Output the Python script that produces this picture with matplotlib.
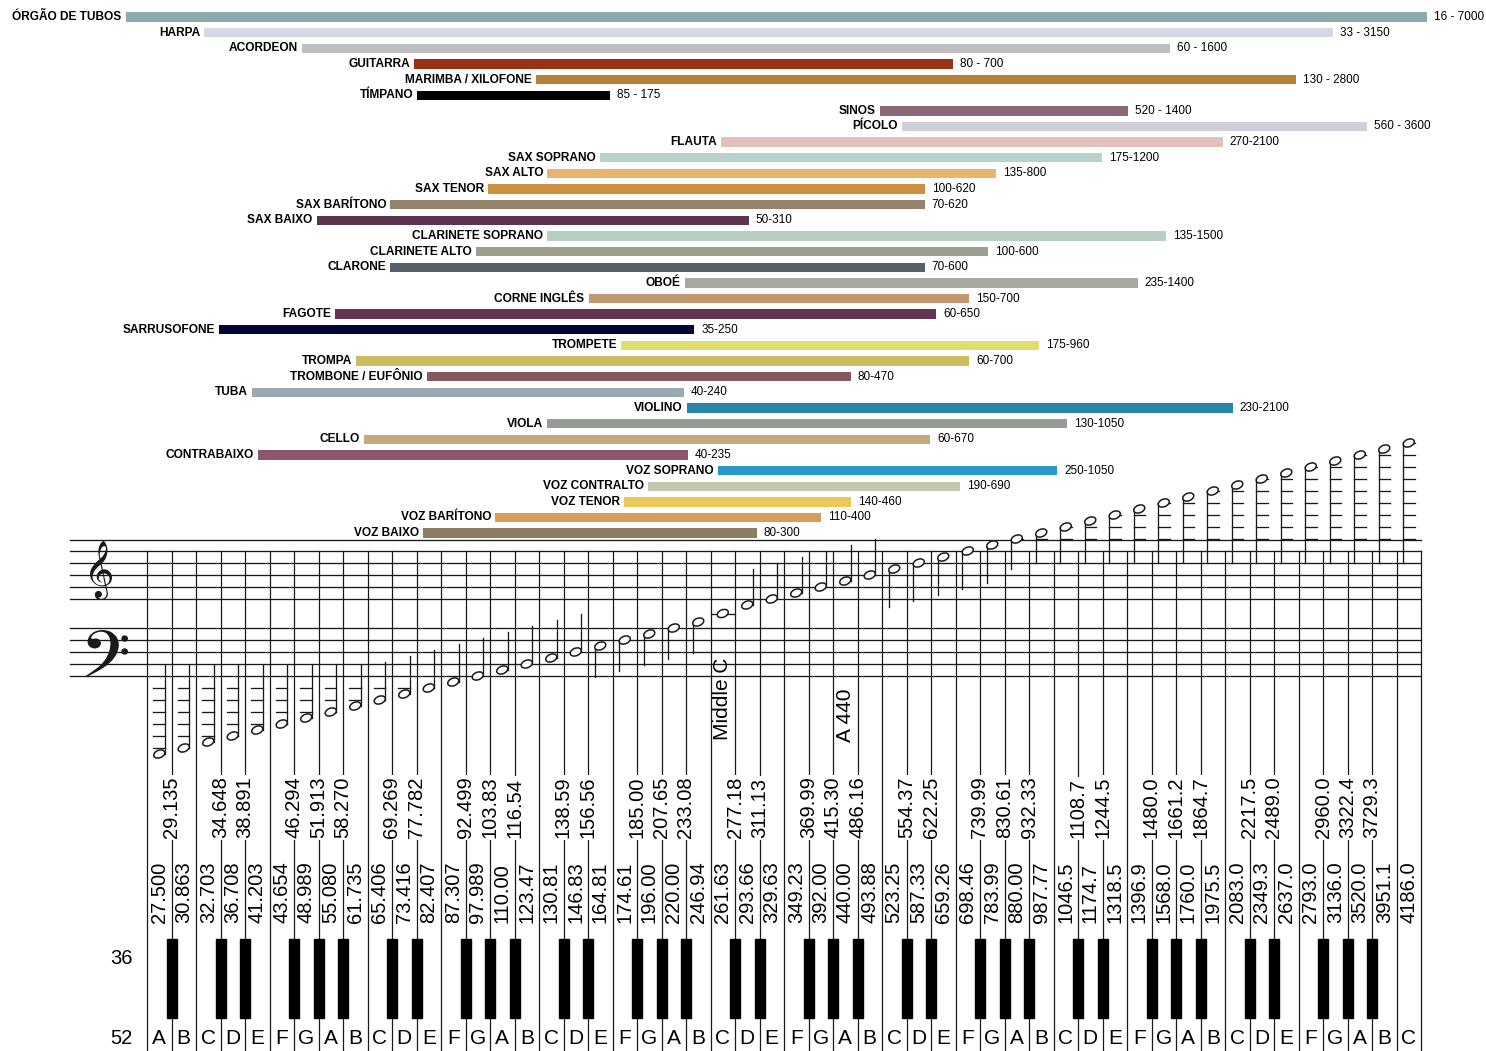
import numpy as np
import matplotlib
matplotlib.use("Agg")
import matplotlib.pyplot as plt
from matplotlib.patches import Ellipse, Rectangle, PathPatch
from matplotlib.path import Path
from matplotlib.textpath import TextPath
from matplotlib.font_manager import FontProperties

plt.rcParams['font.family'] = ['Liberation Sans', 'DejaVu Sans']

# ---------------- dados ----------------
instrumentos = ["ÓRGÃO DE TUBOS", "HARPA", "ACORDEON", "GUITARRA", "MARIMBA / XILOFONE",
                "TÍMPANO", "SINOS", "PÍCOLO", "FLAUTA", "SAX SOPRANO", "SAX ALTO",
                "SAX TENOR", "SAX BARÍTONO", "SAX BAIXO", "CLARINETE SOPRANO",
                "CLARINETE ALTO", "CLARONE", "OBOÉ", "CORNE INGLÊS", "FAGOTE",
                "SARRUSOFONE", "TROMPETE", "TROMPA", "TROMBONE / EUFÔNIO", "TUBA",
                "VIOLINO", "VIOLA", "CELLO", "CONTRABAIXO", "VOZ SOPRANO",
                "VOZ CONTRALTO", "VOZ TENOR", "VOZ BARÍTONO", "VOZ BAIXO"]
faixas = ["16 - 7000", "33 - 3150", "60 - 1600", "80 - 700", "130 - 2800", "85 - 175",
          "520 - 1400", "560 - 3600", "270-2100", "175-1200", "135-800", "100-620",
          "70-620", "50-310", "135-1500", "100-600", "70-600", "235-1400", "150-700",
          "60-650", "35-250", "175-960", "60-700", "80-470", "40-240", "230-2100",
          "130-1050", "60-670", "40-235", "250-1050", "190-690", "140-460", "110-400",
          "80-300"]
# extremos das barras como desenhadas (Hz), nem sempre iguais ao texto
hz_min = [24, 33, 49, 77, 126, 78, 506, 553, 266, 163, 132, 104, 70, 52, 132, 99, 70,
          230, 156, 56, 35, 178, 61, 81, 40, 232, 132, 63, 41, 263, 198, 180, 107, 80]
hz_max = [4620, 3160, 1636, 680, 2720, 170, 1379, 3624, 2024, 1242, 809, 607, 607, 298,
          1609, 783, 607, 1436, 726, 635, 239, 963, 726, 450, 229, 2107, 1078, 620, 233,
          1036, 700, 450, 399, 308]
cores = ["#8aacae", "#d5d9e5", "#c0bdc0", "#983212", "#b5813a", "#000000", "#8a6878",
         "#d0ced9", "#e0c0b8", "#b5d2cc", "#e9b46e", "#cc9043", "#95826c", "#5d334f",
         "#b7cfc2", "#9e9e8c", "#596068", "#a9a8a2", "#c09870", "#643550", "#050535",
         "#e0dc70", "#cdbc60", "#845a5e", "#9aa9b0", "#2a85a8", "#949c94", "#c7a77c",
         "#8e566c", "#2d96c8", "#c0c9ae", "#ecc858", "#db9c58", "#8e7c62"]

notas = "ABCDEFGABCDEFGABCDEFGABCDEFGABCDEFGABCDEFGABCDEFGABC"
freq_brancas = ["27.500", "30.863", "32.703", "36.708", "41.203", "43.654", "48.989",
                "55.080", "61.735", "65.406", "73.416", "82.407", "87.307", "97.989",
                "110.00", "123.47", "130.81", "146.83", "164.81", "174.61", "196.00",
                "220.00", "246.94", "261.63", "293.66", "329.63", "349.23", "392.00",
                "440.00", "493.88", "523.25", "587.33", "659.26", "698.46", "783.99",
                "880.00", "987.77", "1046.5", "1174.7", "1318.5", "1396.9", "1568.0",
                "1760.0", "1975.5", "2083.0", "2349.3", "2637.0", "2793.0", "3136.0",
                "3520.0", "3951.1", "4186.0"]
freq_pretas = ["29.135", "34.648", "38.891", "46.294", "51.913", "58.270", "69.269",
               "77.782", "92.499", "103.83", "116.54", "138.59", "156.56", "185.00",
               "207.65", "233.08", "277.18", "311.13", "369.99", "415.30", "486.16",
               "554.37", "622.25", "739.99", "830.61", "932.33", "1108.7", "1244.5",
               "1480.0", "1661.2", "1864.7", "2217.5", "2489.0", "2960.0", "3322.4",
               "3729.3"]

# ---------------- layout (pixels) ----------------
W, H = 1486, 1051
x0, kw = 147.0, 24.5          # borda esquerda do teclado, largura tecla branca
esp = 6.0                     # meio espaço da pauta
treble = [551, 563, 575, 587, 599]
bass = [628, 640, 652, 664, 676]
lc = "#1a1a1a"


def nota_y(s):
    if s < 23:
        return 676 - esp * (s - 13)
    if s == 23:
        return 613.5
    return 599 - esp * (s - 25)


fig = plt.figure(figsize=(W / 100, H / 100), dpi=100)
ax = fig.add_axes([0, 0, 1, 1])
ax.set_xlim(0, W)
ax.set_ylim(H, 0)
ax.axis('off')


def clave(ch, x1, y1, x2, y2):
    # encaixa o contorno do glifo na caixa (x1,y1)-(x2,y2)
    tp = TextPath((0, 0), ch, size=100, prop=FontProperties(family='Noto Music'))
    bb = tp.get_extents()
    v = tp.vertices.copy()
    v[:, 0] = x1 + (v[:, 0] - bb.x0) * (x2 - x1) / bb.width
    v[:, 1] = y2 - (v[:, 1] - bb.y0) * (y2 - y1) / bb.height
    ax.add_patch(PathPatch(Path(v, tp.codes), fc=lc, ec='none', zorder=3))


# pautas
for y in [540] + treble + bass:
    ax.plot([70, 1421], [y, y], color=lc, lw=0.95, zorder=2)

clave('\U0001D11E', 90, 541, 112, 600)
clave('\U0001D122', 86, 630, 128, 677)

# linhas verticais das teclas
nk = len(notas)
for u in range(nk + 1):
    x = x0 + kw * u
    ax.plot([x, x], [551, H], color=lc, lw=0.9, zorder=1)

# teclas pretas + rótulos
j = 0
for u in range(1, nk):
    if notas[u - 1] in "ACDFG":
        x = x0 + kw * u
        ax.add_patch(Rectangle((x - 5, 939), 10, 79, color="black", zorder=3))
        ax.text(x, 838, freq_pretas[j], rotation=90, ha='center', va='bottom',
                fontsize=14.5, zorder=4,
                bbox=dict(fc='white', ec='none', pad=1.2))
        j += 1

# rótulos das teclas brancas e letras
for i in range(nk):
    cx = x0 + kw * (i + 0.5)
    ax.text(cx, 923, freq_brancas[i], rotation=90, ha='center', va='bottom',
            fontsize=14.5, zorder=4)
    ax.text(cx, 1039, notas[i], ha='center', va='center', fontsize=15, zorder=4)

ax.text(121, 959, "36", ha='center', va='center', fontsize=14.5)
ax.text(121, 1039, "52", ha='center', va='center', fontsize=14.5)

# notas na pauta
for s in range(nk):
    cx = x0 + kw * (s + 0.5)
    y = nota_y(s)
    if s == 23:
        ax.plot([x0 + kw * s, x0 + kw * (s + 1)], [y, y], color=lc, lw=0.95, zorder=5)
    elif s <= 17 or 23 < s <= 29:
        sx = cx + 5.5
        top = min(y - 38, 665) if s <= 17 else y - 36
        ax.plot([sx, sx], [y, top], color=lc, lw=0.95, zorder=5)
        for L in [11, 9, 7, 5, 3, 1]:
            if L >= s and s <= 11:
                ly = nota_y(L)
                ax.plot([cx - 6, sx], [ly, ly], color=lc, lw=0.95, zorder=5)
    else:
        sx = cx - 5.5
        if s >= 35:
            bot = max(y + 30, 563)
        elif s >= 30:
            bot = y + 38
        else:
            bot = y + 31
        ax.plot([sx, sx], [y, bot], color=lc, lw=0.95, zorder=5)
        for L in range(35, 52, 2):
            if L <= s:
                ly = nota_y(L)
                ax.plot([sx, cx + 6], [ly, ly], color=lc, lw=0.95, zorder=5)
    ax.add_patch(Ellipse((cx, y), 11.5, 7.5, angle=-22, fc='white', ec=lc,
                         lw=1.1, zorder=6))

ax.text(x0 + kw * 23.5, 740, "Middle C", rotation=90, ha='center', va='bottom',
        fontsize=15, zorder=4)
ax.text(x0 + kw * 28.5, 742, "A 440", rotation=90, ha='center', va='bottom',
        fontsize=15, zorder=4)

# ---------------- barras (escala log, Hz) ----------------
def f_at(px):
    return 27.5 * 2 ** ((px - 159.25) / 171.5)


def row_at(py):
    return (py - 17) / 15.64


axb = fig.add_axes([0, 0, 1, 1], facecolor='none')
axb.set_xscale('log', base=2)
axb.set_xlim(f_at(0), f_at(W))
axb.set_ylim(row_at(H), row_at(0))
axb.axis('off')

lo = np.array(hz_min, dtype=float)
hi = np.array(hz_max, dtype=float)
rows = np.arange(len(instrumentos))
axb.barh(rows, hi - lo, left=lo, height=0.6, color=cores)
for i in rows:
    axb.annotate(instrumentos[i], (lo[i], i), xytext=(-3, 0), textcoords='offset points',
                 ha='right', va='center', fontsize=8.6, fontweight='bold')
    axb.annotate(faixas[i], (hi[i], i), xytext=(5, 0), textcoords='offset points',
                 ha='left', va='center', fontsize=8.5)

fig.savefig("out.png", dpi=100)
